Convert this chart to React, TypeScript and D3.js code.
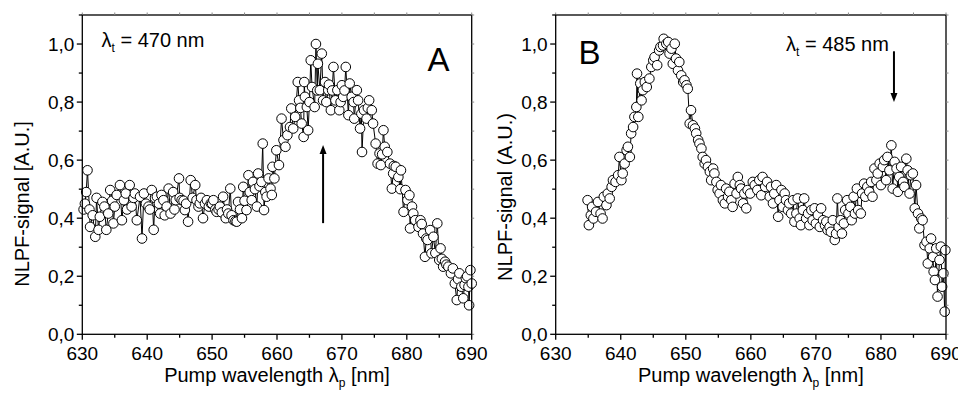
import React from 'react';
import * as d3 from 'd3';

const WIDTH = 958;
const HEIGHT = 400;

const xDomain: [number, number] = [630, 690];
const yDomain: [number, number] = [0, 1.1];
const xTicks = [630, 640, 650, 660, 670, 680, 690];
const xMinorTicks = [635, 645, 655, 665, 675, 685];
const yTicks = [0, 0.2, 0.4, 0.6, 0.8, 1.0];
const yMinorTicks = [0.1, 0.3, 0.5, 0.7, 0.9, 1.1];

// panel A, probe at 470 nm : [pump wavelength, signal]
const seriesA: [number, number][] = [
  [630.2, 0.43], [630.4, 0.45], [630.6, 0.49], [630.8, 0.565], [631.1, 0.43], [631.2, 0.37], [631.6, 0.41],
  [632.0, 0.336], [632.2, 0.47], [632.5, 0.36], [632.7, 0.405], [633.1, 0.456], [633.4, 0.44], [633.7, 0.36],
  [634.0, 0.416], [634.3, 0.497], [634.6, 0.46], [634.8, 0.382], [635.0, 0.44], [635.3, 0.48], [635.8, 0.514],
  [636.1, 0.393], [636.4, 0.462], [636.7, 0.485], [636.9, 0.43], [637.3, 0.514], [637.6, 0.44], [637.9, 0.47],
  [638.1, 0.485], [638.4, 0.393], [638.9, 0.474], [639.2, 0.33], [639.5, 0.485], [639.8, 0.45], [640.2, 0.44],
  [640.4, 0.43], [640.7, 0.497], [641.0, 0.36], [641.2, 0.47], [641.5, 0.474], [641.8, 0.45], [642.0, 0.416],
  [642.2, 0.48], [642.5, 0.462], [642.7, 0.41], [643.0, 0.44], [643.3, 0.502], [643.6, 0.416], [644.0, 0.49],
  [644.2, 0.43], [644.4, 0.462], [644.9, 0.537], [645.0, 0.47], [645.3, 0.462], [645.6, 0.46], [645.8, 0.428],
  [646.0, 0.45], [646.3, 0.388], [646.7, 0.531], [647.0, 0.47], [647.4, 0.514], [647.6, 0.462], [647.9, 0.44],
  [648.1, 0.451], [648.3, 0.47], [648.6, 0.4], [648.9, 0.45], [649.2, 0.462], [649.5, 0.44], [649.8, 0.451],
  [650.0, 0.45], [650.2, 0.462], [650.5, 0.43], [650.7, 0.422], [651.0, 0.43], [651.2, 0.44], [651.5, 0.42],
  [651.7, 0.474], [652.1, 0.4], [652.3, 0.43], [652.5, 0.416], [652.8, 0.502], [653.0, 0.41], [653.3, 0.393],
  [653.6, 0.39], [653.8, 0.388], [654.0, 0.456], [654.3, 0.43], [654.6, 0.4], [654.8, 0.508], [655.0, 0.46],
  [655.3, 0.428], [655.6, 0.548], [655.8, 0.49], [656.1, 0.462], [656.3, 0.525], [656.6, 0.5], [656.9, 0.44],
  [657.1, 0.554], [657.3, 0.51], [657.6, 0.525], [657.8, 0.657], [658.0, 0.428], [658.2, 0.49], [658.4, 0.474],
  [658.7, 0.537], [659.0, 0.502], [659.2, 0.48], [659.3, 0.577], [659.6, 0.537], [659.9, 0.634], [660.3, 0.583],
  [660.7, 0.743], [661.0, 0.669], [661.3, 0.646], [661.6, 0.686], [662.0, 0.714], [662.2, 0.778], [662.5, 0.709],
  [662.8, 0.749], [663.2, 0.869], [663.4, 0.806], [663.6, 0.78], [663.8, 0.726], [664.1, 0.68], [664.2, 0.869],
  [664.3, 0.818], [664.6, 0.783], [664.8, 0.703], [665.0, 0.8], [665.2, 0.944], [665.4, 0.852], [665.8, 0.783],
  [666.0, 1.0], [666.2, 0.84], [666.3, 0.932], [666.6, 0.841], [666.9, 0.967], [667.1, 0.806], [667.4, 0.869],
  [667.6, 0.8], [667.9, 0.841], [668.0, 0.86], [668.3, 0.772], [668.5, 0.84], [668.7, 0.921], [669.0, 0.806],
  [669.3, 0.841], [669.6, 0.772], [669.8, 0.8], [670.0, 0.858], [670.2, 0.818], [670.4, 0.84], [670.6, 0.921],
  [671.0, 0.755], [671.2, 0.864], [671.5, 0.818], [671.8, 0.8], [671.9, 0.743], [672.3, 0.841], [672.5, 0.806],
  [672.8, 0.709], [673.0, 0.76], [673.1, 0.628], [673.4, 0.772], [673.8, 0.743], [674.0, 0.78], [674.2, 0.806],
  [674.6, 0.772], [674.8, 0.726], [675.2, 0.657], [675.5, 0.588], [675.8, 0.623], [676.0, 0.583], [676.2, 0.62],
  [676.4, 0.703], [676.6, 0.646], [677.0, 0.628], [677.4, 0.588], [677.7, 0.502], [677.9, 0.554], [678.0, 0.58],
  [678.3, 0.577], [678.7, 0.542], [679.0, 0.5], [679.1, 0.565], [679.5, 0.422], [679.8, 0.497], [680.1, 0.462],
  [680.4, 0.479], [680.5, 0.365], [680.8, 0.44], [681.0, 0.416], [681.3, 0.393], [681.8, 0.37], [682.1, 0.393],
  [682.3, 0.38], [682.5, 0.347], [682.8, 0.267], [683.0, 0.33], [683.2, 0.325], [683.6, 0.359], [683.8, 0.279],
  [684.1, 0.336], [684.4, 0.28], [684.7, 0.382], [685.0, 0.256], [685.2, 0.296], [685.4, 0.26], [685.6, 0.233],
  [685.9, 0.25], [686.1, 0.24], [686.4, 0.233], [686.8, 0.21], [687.1, 0.227], [687.4, 0.175], [687.7, 0.118],
  [687.9, 0.19], [688.1, 0.21], [688.4, 0.164], [688.7, 0.124], [688.9, 0.17], [689.1, 0.193], [689.3, 0.2],
  [689.5, 0.164], [689.6, 0.1], [689.8, 0.221], [690.0, 0.175],
];

// panel B, probe at 485 nm
const seriesB: [number, number][] = [
  [634.9, 0.462], [635.1, 0.376], [635.4, 0.41], [635.6, 0.439], [635.8, 0.399], [636.2, 0.422], [636.5, 0.456],
  [636.9, 0.416], [637.2, 0.399], [637.4, 0.474], [637.8, 0.445], [638.0, 0.485], [638.3, 0.468], [638.6, 0.508],
  [638.8, 0.531], [639.2, 0.525], [639.6, 0.548], [639.8, 0.611], [640.1, 0.531], [640.3, 0.554], [640.6, 0.588],
  [640.9, 0.634], [641.1, 0.646], [641.4, 0.611], [641.6, 0.692], [641.9, 0.714], [642.1, 0.749], [642.4, 0.783],
  [642.5, 0.898], [642.7, 0.749], [643.0, 0.864], [643.2, 0.806], [643.4, 0.841], [643.7, 0.869], [644.0, 0.852],
  [644.4, 0.881], [644.7, 0.921], [645.0, 0.944], [645.2, 0.955], [645.6, 0.927], [645.9, 0.978], [646.1, 0.99],
  [646.5, 0.995], [646.6, 1.018], [647.0, 1.001], [647.3, 1.007], [647.5, 0.967], [647.8, 0.984], [648.0, 0.932],
  [648.3, 1.001], [648.5, 0.95], [648.8, 0.909], [649.0, 0.938], [649.3, 0.892], [649.6, 0.869], [649.8, 0.875],
  [650.1, 0.858], [650.3, 0.846], [650.6, 0.726], [650.8, 0.772], [651.1, 0.72], [651.4, 0.709], [651.6, 0.692],
  [651.9, 0.669], [652.1, 0.657], [652.4, 0.64], [652.6, 0.611], [652.9, 0.588], [653.1, 0.6], [653.4, 0.577],
  [653.7, 0.56], [653.9, 0.531], [654.2, 0.571], [654.4, 0.554], [654.7, 0.525], [654.9, 0.497], [655.2, 0.485],
  [655.4, 0.514], [655.7, 0.462], [656.0, 0.451], [656.2, 0.502], [656.5, 0.474], [656.7, 0.491], [657.0, 0.462],
  [657.2, 0.439], [657.5, 0.519], [657.8, 0.485], [658.0, 0.542], [658.3, 0.514], [658.5, 0.502], [658.8, 0.451],
  [659.0, 0.485], [659.3, 0.434], [659.5, 0.497], [659.9, 0.485], [660.3, 0.525], [660.6, 0.514], [661.0, 0.497],
  [661.3, 0.531], [661.6, 0.479], [661.8, 0.542], [662.2, 0.508], [662.5, 0.525], [662.9, 0.474], [663.1, 0.508],
  [663.4, 0.451], [663.6, 0.485], [663.9, 0.514], [664.2, 0.405], [664.4, 0.462], [664.7, 0.497], [664.9, 0.439],
  [665.2, 0.485], [665.4, 0.462], [665.7, 0.428], [665.9, 0.451], [666.2, 0.416], [666.5, 0.462], [666.7, 0.388],
  [667.0, 0.416], [667.2, 0.468], [667.5, 0.399], [667.7, 0.376], [668.0, 0.428], [668.2, 0.468], [668.5, 0.399],
  [668.8, 0.416], [669.0, 0.376], [669.3, 0.428], [669.5, 0.393], [669.8, 0.434], [670.0, 0.382], [670.3, 0.411],
  [670.6, 0.37], [670.8, 0.434], [671.1, 0.393], [671.4, 0.375], [671.6, 0.388], [671.8, 0.359], [672.1, 0.37],
  [672.3, 0.353], [672.6, 0.393], [672.9, 0.325], [673.1, 0.347], [673.3, 0.468], [673.5, 0.37], [673.8, 0.393],
  [674.0, 0.347], [674.3, 0.382], [674.5, 0.428], [674.8, 0.462], [675.0, 0.416], [675.3, 0.439], [675.5, 0.393],
  [675.8, 0.474], [676.0, 0.416], [676.3, 0.502], [676.5, 0.428], [676.9, 0.416], [677.1, 0.485], [677.4, 0.519],
  [677.6, 0.474], [677.9, 0.508], [678.2, 0.491], [678.5, 0.525], [678.7, 0.474], [679.0, 0.571], [679.3, 0.531],
  [679.5, 0.554], [679.8, 0.588], [680.0, 0.514], [680.3, 0.577], [680.5, 0.6], [680.8, 0.531], [681.0, 0.611],
  [681.3, 0.565], [681.6, 0.651], [681.8, 0.502], [682.1, 0.594], [682.4, 0.571], [682.6, 0.491], [682.8, 0.542],
  [683.1, 0.577], [683.4, 0.525], [683.6, 0.508], [683.9, 0.605], [684.1, 0.565], [684.4, 0.485], [684.6, 0.548],
  [684.9, 0.554], [685.2, 0.434], [685.4, 0.514], [685.7, 0.416], [685.9, 0.365], [686.2, 0.399], [686.4, 0.393],
  [686.7, 0.307], [687.0, 0.319], [687.2, 0.244], [687.5, 0.296], [687.7, 0.33], [688.0, 0.267], [688.1, 0.216],
  [688.3, 0.187], [688.5, 0.296], [688.7, 0.13], [689.0, 0.256], [689.2, 0.302], [689.4, 0.164], [689.6, 0.21],
  [689.8, 0.078], [689.9, 0.29],
];

// arrows: [wavelength, tail signal, head signal]
const arrowA: [number, number, number] = [667.1, 0.383, 0.652];
const arrowB: [number, number, number] = [682.0, 0.975, 0.8];

const FONT = '"Liberation Sans", Arial, sans-serif';
const fmt = (v: number) => d3.format('.1f')(v).replace('.', ',');

interface PanelProps {
  data: [number, number][];
  left: number;
  right: number;
  letter: string;
  letterX: number;
  letterY: number;
  probe: string;
  probeX: number;
  probeY: number;
  yTitle: string;
  yTitleX: number;
  yTitleY: number;
  arrow: [number, number, number];
}

const TOP = 15;
const BOTTOM = 334.3;

const Panel: React.FC<PanelProps> = (p) => {
  const x = d3.scaleLinear().domain(xDomain).range([p.left, p.right]);
  const y = d3.scaleLinear().domain(yDomain).range([BOTTOM, TOP]);
  const sorted = [...p.data].sort((a, b) => a[0] - b[0]);
  const line = d3.line<[number, number]>().x((d) => x(d[0])).y((d) => y(d[1]));

  const [ax, aTail, aHead] = p.arrow;
  const tipY = y(aHead);
  const dir = aHead > aTail ? 1 : -1; // 1 = pointing up
  const headLen = 9;
  const headW = 3.5;
  const baseY = tipY + dir * headLen;

  return (
    <g fontFamily={FONT}>
      {/* connecting line + symbols */}
      <path d={line(sorted) ?? ''} fill="none" stroke="#000" strokeWidth={1} />
      {sorted.map((d, i) => (
        <circle key={i} cx={x(d[0])} cy={y(d[1])} r={4.8} fill="#fff" stroke="#000" strokeWidth={1} />
      ))}

      {/* frame */}
      <rect x={p.left} y={TOP} width={p.right - p.left} height={BOTTOM - TOP} fill="none" stroke="#000" strokeWidth={1.3} />

      {/* opposite axes faint ticks */}
      {[...xTicks, ...xMinorTicks].map((t) => (
        <line key={'tt' + t} x1={x(t)} x2={x(t)} y1={TOP} y2={TOP - 2.5} stroke="#888" strokeWidth={1} />
      ))}
      {[...yTicks, ...yMinorTicks].map((t) => (
        <line key={'rt' + t} x1={p.right} x2={p.right + 2.5} y1={y(t)} y2={y(t)} stroke="#888" strokeWidth={1} />
      ))}

      {/* bottom axis */}
      {xTicks.map((t) => (
        <g key={'x' + t}>
          <line x1={x(t)} x2={x(t)} y1={BOTTOM} y2={BOTTOM + 5.5} stroke="#000" strokeWidth={1.3} />
          <text x={x(t)} y={359.5} textAnchor="middle" fontSize={19}>{t}</text>
        </g>
      ))}
      {xMinorTicks.map((t) => (
        <line key={'xm' + t} x1={x(t)} x2={x(t)} y1={BOTTOM} y2={BOTTOM + 3.5} stroke="#000" strokeWidth={1.3} />
      ))}

      {/* left axis */}
      {yTicks.map((t) => (
        <g key={'y' + t}>
          <line x1={p.left} x2={p.left - 5.5} y1={y(t)} y2={y(t)} stroke="#000" strokeWidth={1.3} />
          <text x={p.left - 8} y={y(t)} dy="0.36em" textAnchor="end" fontSize={19}>{fmt(t)}</text>
        </g>
      ))}
      {yMinorTicks.map((t) => (
        <line key={'ym' + t} x1={p.left} x2={p.left - 3.5} y1={y(t)} y2={y(t)} stroke="#000" strokeWidth={1.3} />
      ))}

      {/* titles */}
      <text x={(p.left + p.right) / 2} y={381.5} textAnchor="middle" fontSize={20}>
        Pump wavelength λ<tspan fontSize={12} dy={5}>p</tspan><tspan dy={-5}> [nm]</tspan>
      </text>
      <text
        transform={`translate(${p.yTitleX},${p.yTitleY}) rotate(-90)`}
        textAnchor="middle"
        fontSize={20}
      >
        {p.yTitle}
      </text>

      {/* annotations */}
      <text x={p.letterX} y={p.letterY} textAnchor="middle" fontSize={33}>{p.letter}</text>
      <text x={p.probeX} y={p.probeY} fontSize={20}>
        λ<tspan fontSize={12} dy={5}>t</tspan><tspan dy={-5}> = {p.probe} nm</tspan>
      </text>

      {/* arrow */}
      <line x1={x(ax)} x2={x(ax)} y1={y(aTail)} y2={baseY} stroke="#000" strokeWidth={2} />
      <path
        d={`M${x(ax)},${tipY} L${x(ax) - headW},${baseY} L${x(ax) + headW},${baseY} Z`}
        fill="#000"
      />
    </g>
  );
};

export default function App() {
  return (
    <svg
      width={WIDTH}
      height={HEIGHT}
      style={{ position: 'absolute', left: 0, top: 0, background: '#fff' }}
    >
      <rect width={WIDTH} height={HEIGHT} fill="#fff" />
      <Panel
        data={seriesA}
        left={82.3}
        right={471.7}
        letter="A"
        letterX={438.5}
        letterY={71}
        probe="470"
        probeX={101.5}
        probeY={46.5}
        yTitle="NLPF-signal [A.U.]"
        yTitleX={29}
        yTitleY={204}
        arrow={arrowA}
      />
      <Panel
        data={seriesB}
        left={555.7}
        right={946}
        letter="B"
        letterX={589.5}
        letterY={63.5}
        probe="485"
        probeX={786}
        probeY={50.5}
        yTitle="NLPF-signal (A.U.)"
        yTitleX={512}
        yTitleY={197}
        arrow={arrowB}
      />
    </svg>
  );
}
